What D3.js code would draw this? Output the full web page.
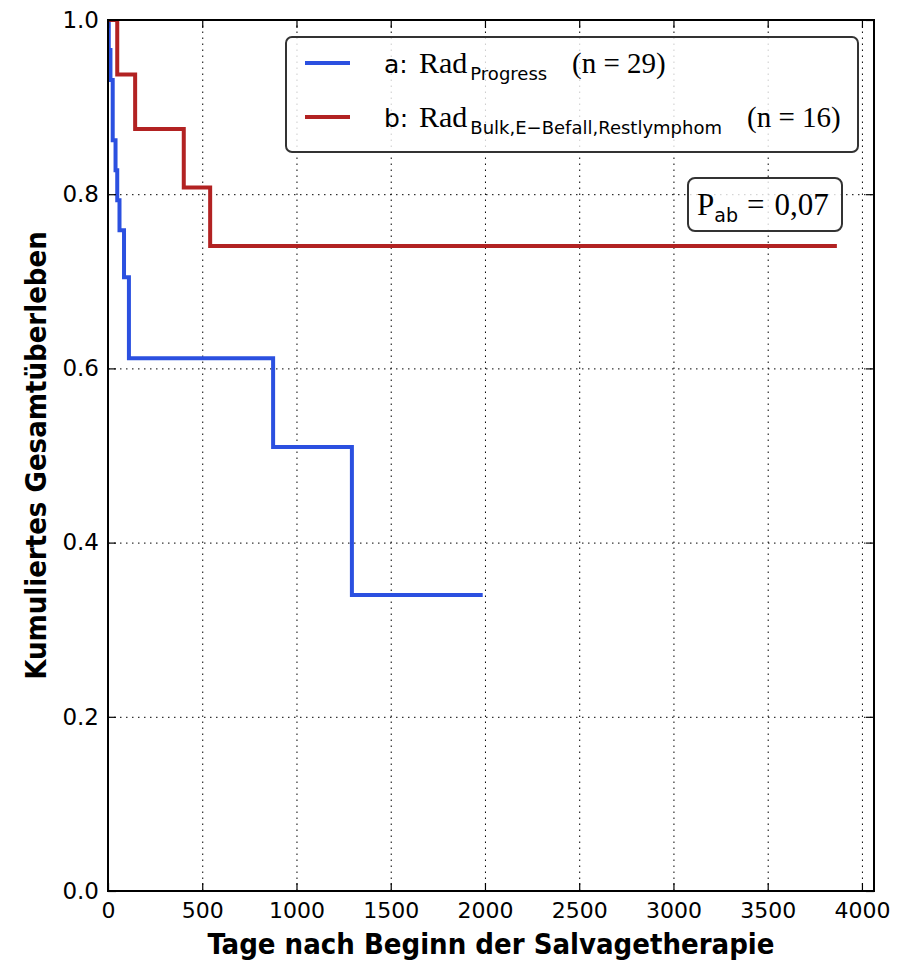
<!DOCTYPE html>
<html>
<head>
<meta charset="utf-8">
<script src="https://cdn.jsdelivr.net/npm/d3@7"></script>
<style>
  body { margin: 0; background: #fff; }
  svg { display: block; }
  .tick text { font-family: "DejaVu Sans", sans-serif; fill: #000; }
  .axlabel { font-family: "DejaVu Sans Condensed", "DejaVu Sans", sans-serif; font-weight: bold; font-stretch: condensed; }
  .serif { font-family: "Liberation Serif", serif; }
  .sans { font-family: "DejaVu Sans", sans-serif; }
</style>
</head>
<body>
<script>
// survival curve a: Rad Progress (n=29)
const daysA = [0, 4, 13, 25, 40, 49, 61, 85, 111, 876, 1294, 1988];
const survA = [1.0, 0.9655, 0.931, 0.862, 0.8276, 0.7931, 0.7586, 0.7046, 0.6117, 0.5098, 0.3399, 0.3399];
// survival curve b: Rad Bulk,E-Befall,Restlymphom (n=16)
const daysB = [0, 49, 144, 402, 542, 3867];
const survB = [1.0, 0.9375, 0.875, 0.8077, 0.7404, 0.7404];

const xTicks = [0, 500, 1000, 1500, 2000, 2500, 3000, 3500, 4000];
const yTicks = [0.0, 0.2, 0.4, 0.6, 0.8, 1.0];

const w = 912, h = 962;
const margin = { top: 20, left: 108, right: 38, bottom: 71 };
const width = w - margin.left - margin.right;
const height = h - margin.top - margin.bottom;

const svg = d3.select("body").append("svg")
  .attr("width", w)
  .attr("height", h);

const chart = svg.append("g")
  .attr("transform", "translate(" + margin.left + "," + margin.top + ")");

const x = d3.scaleLinear().domain([0, 4064]).range([0, width]);
const y = d3.scaleLinear().domain([0, 1]).range([height, 0]);

chart.append("clipPath").attr("id", "clip")
  .append("rect").attr("width", width).attr("height", height);

// grid
chart.append("g")
  .attr("transform", "translate(0," + height + ")")
  .call(d3.axisBottom(x).tickValues(xTicks).tickSize(-height).tickFormat(""))
  .call(g => g.select(".domain").remove())
  .selectAll("line")
    .attr("stroke", "#000")
    .attr("stroke-dasharray", "1.5,4.5");

chart.append("g")
  .call(d3.axisLeft(y).tickValues(yTicks).tickSize(-width).tickFormat(""))
  .call(g => g.select(".domain").remove())
  .selectAll("line")
    .attr("stroke", "#000")
    .attr("stroke-dasharray", "1.5,4.5");

// curves
const line = d3.line()
  .x(d => x(d[0]))
  .y(d => y(d[1]))
  .curve(d3.curveStepAfter);

const series = [
  { days: daysA, surv: survA, color: "#2b50e0" },
  { days: daysB, surv: survB, color: "#b22222" }
];

chart.append("g").attr("clip-path", "url(#clip)")
  .selectAll(".curve")
  .data(series)
  .enter()
    .append("path")
    .classed("curve", true)
    .attr("d", s => line(s.days.map((d, i) => [d, s.surv[i]])))
    .attr("fill", "none")
    .attr("stroke", s => s.color)
    .attr("stroke-width", 4);

// axes with inward ticks
const tickLen = 8;
const xAxis = chart.append("g")
  .attr("transform", "translate(0," + height + ")")
  .call(d3.axisBottom(x).tickValues(xTicks).tickSizeInner(-tickLen).tickSizeOuter(0).tickPadding(8).tickFormat(d3.format("d")));
xAxis.selectAll("text").style("font-size", "22px").attr("dy", "0.85em");

const yAxis = chart.append("g")
  .call(d3.axisLeft(y).tickValues(yTicks).tickSizeInner(-tickLen).tickSizeOuter(0).tickPadding(9).tickFormat(d3.format(".1f")));
yAxis.selectAll("text").style("font-size", "23px");

chart.append("g")
  .call(d3.axisTop(x).tickValues(xTicks).tickSizeInner(-tickLen).tickSizeOuter(0).tickFormat(""));
chart.append("g")
  .attr("transform", "translate(" + width + ",0)")
  .call(d3.axisRight(y).tickValues(yTicks).tickSizeInner(-tickLen).tickSizeOuter(0).tickFormat(""));

chart.selectAll(".domain").remove();
chart.selectAll(".tick line").filter(function(){ return !this.getAttribute("stroke-dasharray"); })
  .attr("stroke", "#000").attr("stroke-width", 1.2);

// frame
chart.append("rect")
  .attr("width", width).attr("height", height)
  .attr("fill", "none").attr("stroke", "#000").attr("stroke-width", 2);

// axis labels
svg.append("text")
  .classed("axlabel", true)
  .attr("x", margin.left + width / 2)
  .attr("y", 954)
  .attr("text-anchor", "middle")
  .style("font-size", "29px")
  .text("Tage nach Beginn der Salvagetherapie");

svg.append("text")
  .classed("axlabel", true)
  .attr("transform", "translate(46," + (margin.top + height / 2) + ") rotate(-90)")
  .attr("text-anchor", "middle")
  .style("font-size", "29px")
  .text("Kumuliertes Gesamtüberleben");

// legend
const legend = svg.append("g");
legend.append("rect")
  .attr("x", 286).attr("y", 37).attr("width", 572).attr("height", 115)
  .attr("rx", 6)
  .attr("fill", "#fff").attr("fill-opacity", 0.8)
  .attr("stroke", "#333").attr("stroke-width", 2);

const legendItems = [
  { key: "a:", sub: "Progress", n: "(n = 29)", color: "#2b50e0", subEnd: 551 },
  { key: "b:", sub: "Bulk,E\u2212Befall,Restlymphom", n: "(n = 16)", color: "#b22222", subEnd: 726 }
];
legendItems.forEach((it, i) => {
  const cy = 63 + i * 54;
  legend.append("line")
    .attr("x1", 305).attr("x2", 350).attr("y1", cy).attr("y2", cy)
    .attr("stroke", it.color).attr("stroke-width", 4);
  const t = legend.append("text").attr("x", 384).attr("y", cy + 10);
  t.append("tspan").classed("sans", true).style("font-size", "25px").text(it.key);
  t.append("tspan").classed("serif", true).attr("x", 419).style("font-size", "30px").text("Rad");
  t.append("tspan").classed("sans", true).attr("dx", 3).attr("dy", 7).style("font-size", "18px").text(it.sub);
  t.append("tspan").classed("serif", true).attr("x", it.subEnd + 21).attr("dy", -7).style("font-size", "29px").text(it.n);
});

// p-value box
svg.append("rect")
  .attr("x", 688).attr("y", 178).attr("width", 154).attr("height", 53)
  .attr("rx", 7)
  .attr("fill", "#fff").attr("fill-opacity", 0.8)
  .attr("stroke", "#333").attr("stroke-width", 2);
const pt = svg.append("text").attr("x", 697).attr("y", 215);
pt.append("tspan").classed("serif", true).style("font-size", "31px").text("P");
pt.append("tspan").classed("sans", true).attr("dy", 7).style("font-size", "19px").text("ab");
pt.append("tspan").classed("serif", true).attr("dx", 9).attr("dy", -7).style("font-size", "31px").text("=");
pt.append("tspan").classed("serif", true).attr("dx", 10).style("font-size", "31px").text("0,07");
</script>
</body>
</html>
